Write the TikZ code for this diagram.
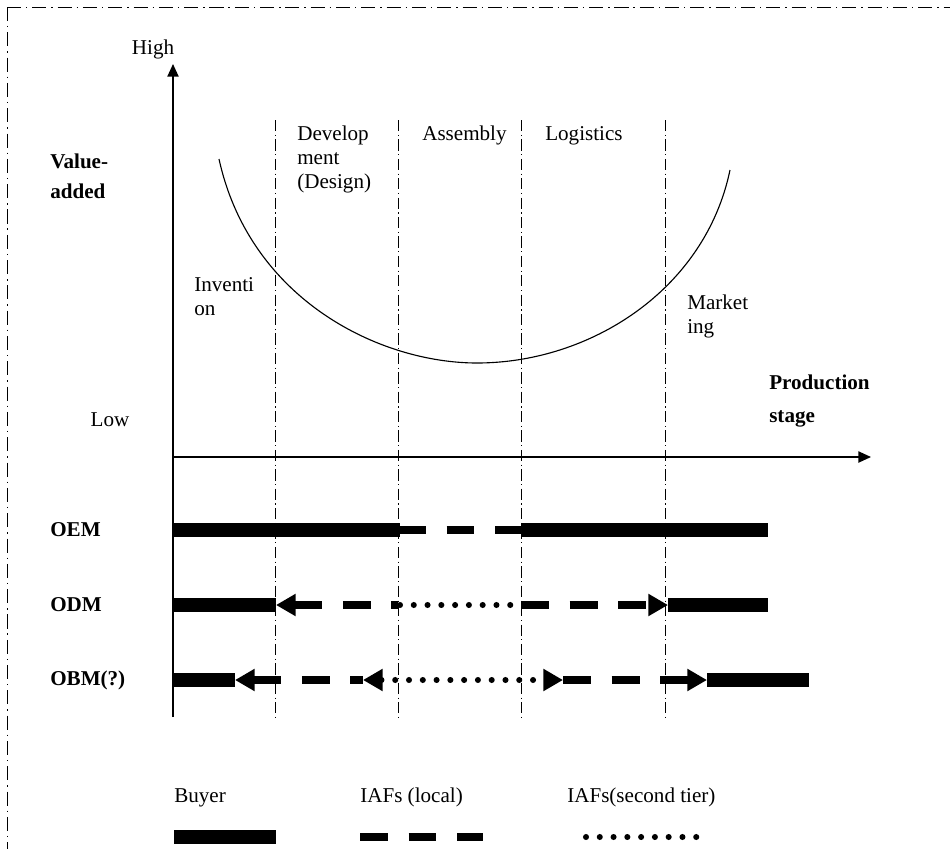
\documentclass[tikz,border=0pt]{standalone}
\usepackage{fontspec}
\setmainfont{Liberation Serif}
\usetikzlibrary{arrows.meta}
\begin{document}
\begin{tikzpicture}[x=0.025cm,y=-0.025cm,>={Triangle[length=14pt,width=15pt]},
  font=\fontsize{15}{17}\selectfont,every node/.style={inner sep=0pt},
  buyer/.style={line width=9.4pt},
  local/.style={line width=5.4pt,dash pattern=on 19.9pt off 14.6pt},
  tier/.style={line width=4.3pt,line cap=round,dash pattern=on 0pt off 9.8pt},
  stageline/.style={line width=0.6pt,dash pattern=on 8pt off 2.5pt on 0.8pt off 2.5pt},
  frameline/.style={line width=0.7pt,dash pattern=on 10pt off 3.5pt on 1pt off 3.5pt}]
\useasboundingbox (0,0) rectangle (950,849);
\draw[frameline](7,7)--(950,7);
\draw[frameline](7,7)--(7,849);
\draw[line width=1pt,-{Triangle[length=9pt,width=8pt]}](173,717)--(173,64);
\draw[line width=1pt,-{Triangle[length=9pt,width=8pt]}](173,457)--(871,457);
\foreach \x in{275,398,521,665}
{
    \draw[stageline](\x,120)--(\x,717);
}
\draw[line width=0.8pt](219,159) .. controls (250,300) and (380,363) .. (477,363)
    .. controls (590,363) and (705,290) .. (730,170);

\node (high) at (153,40)[anchor=north]{High};
\node (low) at (110,420){Low};
\node (valueadded) at (50,154)[anchor=north west,align=left,font=\fontsize{15}{17}\selectfont\bfseries]{Value-\\[4pt]added};
\node (prodstage) at (769,375)[anchor=north west,align=left,font=\fontsize{15}{17}\selectfont\bfseries]{Production\\[6pt]stage};
\node (development) at (297,126)[anchor=north west,align=left]{Develop\\ment\\(Design)};
\node (assembly) at (422,126)[anchor=north west]{Assembly};
\node (logistics) at (545,126)[anchor=north west]{Logistics};
\node (invention) at (194,277)[anchor=north west,align=left]{Inventi\\on};
\node (marketing) at (687,295)[anchor=north west,align=left]{Market\\ing};

\node (oem) at (50,530)[anchor=west,font=\fontsize{15}{17}\selectfont\bfseries]{OEM};
\node (odm) at (50,605)[anchor=west,font=\fontsize{15}{17}\selectfont\bfseries]{ODM};
\node (obm) at (50,680)[anchor=west,font=\fontsize{15}{17}\selectfont\bfseries]{OBM(?)};

\draw[buyer](173,530)--(400,530);
\draw[local](398,530)--(521,530);
\draw[buyer](521,530)--(768,530);

\draw[buyer](173,605)--(276,605);
\draw[local,<-](276,605)--(398,605);
\draw[tier](400,605)--(511,605);
\draw[local,->](521,605)--(668,605);
\draw[buyer](668,605)--(768,605);

\draw[buyer](173,680)--(235,680);
\draw[local,<-](235,680)--(363,680);
\draw[tier,<->](363,680)--(563,680);
\draw[local,->](563,680)--(707,680);
\draw[buyer](707,680)--(809,680);

\node (buyer) at (174,802)[anchor=base west]{Buyer};
\node (local) at (360,802)[anchor=base west]{IAFs (local)};
\node (secondtier) at (567,802)[anchor=base west]{IAFs(second tier)};
\draw[buyer](174,837)--(276,837);
\draw[local](360,837)--(483,837);
\draw[tier](586,837)--(697,837);
\end{tikzpicture}
\end{document}
